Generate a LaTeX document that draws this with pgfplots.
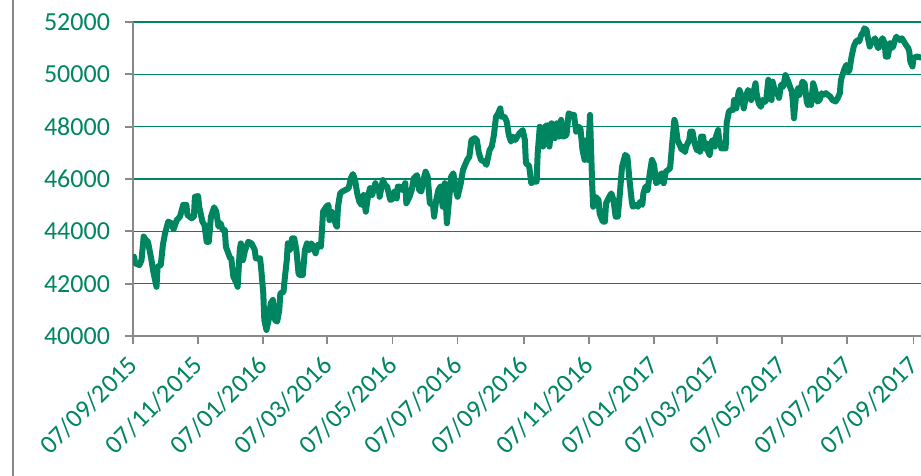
\documentclass[border=0pt]{standalone}
\usepackage{pgfplots}
\usepackage{pgfplotstable}
\usepackage{fontspec}
\setmainfont{Carlito}
\pgfplotsset{compat=1.18}
\definecolor{xlgreen}{RGB}{0,133,97}
\definecolor{axgray}{RGB}{137,137,137}
\pgfplotstableread{
day value
1 43030
2 42780
6 42710
8 42900
10 43800
12 43670
14 43600
17 42970
19 42460
22 41880
23 42650
26 42710
28 43480
30 43920
33 44370
36 44310
38 44080
41 44430
44 44560
47 45010
50 45010
51 44620
55 44500
57 44560
58 45320
61 45350
62 44940
65 44370
67 44240
69 43600
71 43600
73 44560
76 44920
78 44750
80 44180
82 44310
84 44050
86 44050
87 43410
91 42970
92 42970
94 42270
97 42010
98 41880
100 43290
101 43540
103 42900
105 43290
108 43600
111 43540
114 43290
115 42970
119 42970
120 42600
122 41630
123 40610
125 40230
127 40610
129 41250
131 41380
133 40610
135 40550
137 40990
138 41630
141 41690
142 42140
144 42900
145 43540
147 43290
149 43730
151 43730
153 43290
155 42400
156 42330
159 42330
161 43290
163 43540
165 43290
167 43540
169 43410
171 43160
173 43480
176 43410
177 44050
178 44750
181 44940
183 45010
184 44430
186 44750
188 44560
190 44240
191 44180
192 44940
194 45450
196 45520
199 45580
202 45650
204 46030
206 46190
208 45960
210 45450
212 45130
214 45010
216 45390
218 44750
220 45320
222 45650
224 45390
227 45840
228 45580
230 45710
231 45320
234 45960
236 45770
238 45710
241 45200
243 45230
245 45520
247 45260
248 45710
250 45710
252 45580
255 45840
256 45070
259 45320
261 45580
263 46030
266 46150
268 45580
270 45520
272 45960
274 46280
276 46090
278 45070
281 45010
282 44560
284 45200
286 45580
288 45710
290 44940
292 45840
294 44310
296 45200
298 46090
300 46220
303 45450
304 45320
307 45840
309 46340
311 46540
313 46730
315 46850
317 47490
320 47560
322 47490
324 46980
326 46730
329 46660
331 46540
334 47110
336 47240
338 47680
340 48380
342 48510
344 48700
345 48380
348 48380
350 48190
352 47680
354 47430
356 47620
358 47490
362 47750
365 47870
367 47490
368 46600
371 46500
373 45840
375 45900
378 45900
379 46980
381 48000
383 47870
384 47240
386 48000
388 48060
390 47240
392 48130
393 48000
395 47560
397 48130
399 47620
401 48260
403 47620
406 47680
408 48510
411 48450
413 48450
415 47810
417 48000
419 47940
421 47110
423 46730
425 47490
426 46730
428 48450
430 45840
431 44940
433 45320
436 45200
437 44690
440 44370
442 44370
443 45070
446 45320
448 45450
450 45200
452 44560
454 44560
456 45450
458 46470
461 46920
463 46850
465 45960
467 45200
468 44940
471 45010
473 44940
475 45130
477 45010
478 45450
480 45710
482 45580
484 46220
486 46730
488 46540
490 45840
492 45900
493 46090
495 46220
497 45840
499 46280
501 46340
503 46410
505 47360
507 48260
508 48130
510 47490
512 47300
514 47110
515 47240
517 47040
518 47240
521 47490
522 47810
524 47810
526 47360
528 47110
529 47240
531 47040
532 47620
534 47620
535 47170
537 47360
538 47110
540 46920
542 47430
543 47490
545 47240
546 47620
548 47870
549 47490
551 47170
555 47170
556 48130
558 48570
560 48640
562 48640
563 49020
565 48700
567 49280
568 49400
570 49150
572 48700
574 49150
576 49400
578 49280
579 49020
581 49280
583 49660
584 49280
586 48890
588 48760
590 49020
592 48950
593 49020
595 49790
596 49400
598 49020
599 49720
601 49400
603 49330
605 49100
607 49600
609 49530
611 49970
613 49790
617 49340
618 48960
619 48320
621 49210
623 49470
624 49210
627 49720
629 49650
631 48960
632 48830
634 49210
635 48830
637 49660
638 49530
640 49210
641 48960
643 49020
645 49280
646 49210
649 49280
651 49210
653 49150
655 49020
658 48960
660 49090
662 49280
663 49780
665 50040
666 50170
668 50360
670 50100
671 50170
673 50680
675 51060
677 51250
679 51310
680 51250
682 51500
684 51630
685 51760
687 51700
688 51440
690 51060
691 51190
693 51250
695 51380
696 51190
698 51000
699 51060
701 51310
702 51380
704 51190
705 50680
707 50680
709 51190
710 51000
712 51060
713 51250
715 51440
716 51380
718 51310
720 51380
722 51250
724 51120
726 51000
727 50870
728 50490
730 50300
731 50620
734 50680
738 50640
}\series

\begin{document}
\begin{tikzpicture}
\begin{axis}[
  scale only axis,
  width=394pt, height=157pt,
  xmin=0, xmax=738,
  ymin=40000, ymax=52000,
  axis x line=bottom, axis y line=left,
  axis line style={-, draw=axgray, line width=0.9pt},
  xtick={0,61,122,182,243,304,366,427,488,547,608,669,731},
  xticklabels={07/09/2015,07/11/2015,07/01/2016,07/03/2016,07/05/2016,07/07/2016,07/09/2016,07/11/2016,07/01/2017,07/03/2017,07/05/2017,07/07/2017,07/09/2017},
  ytick={40000,42000,44000,46000,48000,50000,52000},
  scaled y ticks=false,
  /pgf/number format/fixed,
  /pgf/number format/1000 sep={},
  /pgf/number format/assume math mode=true,
  ymajorgrids,
  grid style={draw=xlgreen, line width=0.7pt},
  tick align=outside,
  major tick length=4pt,
  tick style={draw=axgray, line width=0.9pt},
  ticklabel style={font=\fontsize{13}{15}\selectfont, text=xlgreen},
  yticklabel style={xshift=-4pt},
  xticklabel style={xshift=2.5pt, yshift=-6pt, rotate=45, anchor=east},
  clip=true,
]
\addplot[draw=xlgreen, line width=3pt, line join=round, line cap=round] table[x=day, y=value] {\series};
\end{axis}
\draw[draw=axgray, line width=0.9pt] ([xshift=-60pt, yshift=-70pt]current axis.south west) -- ([xshift=-60pt, yshift=11pt]current axis.north west);
\pgfresetboundingbox
\path[use as bounding box] ([xshift=-66.5pt, yshift=-70pt]current axis.south west) rectangle ([yshift=11pt]current axis.north east);
\end{tikzpicture}
\end{document}
